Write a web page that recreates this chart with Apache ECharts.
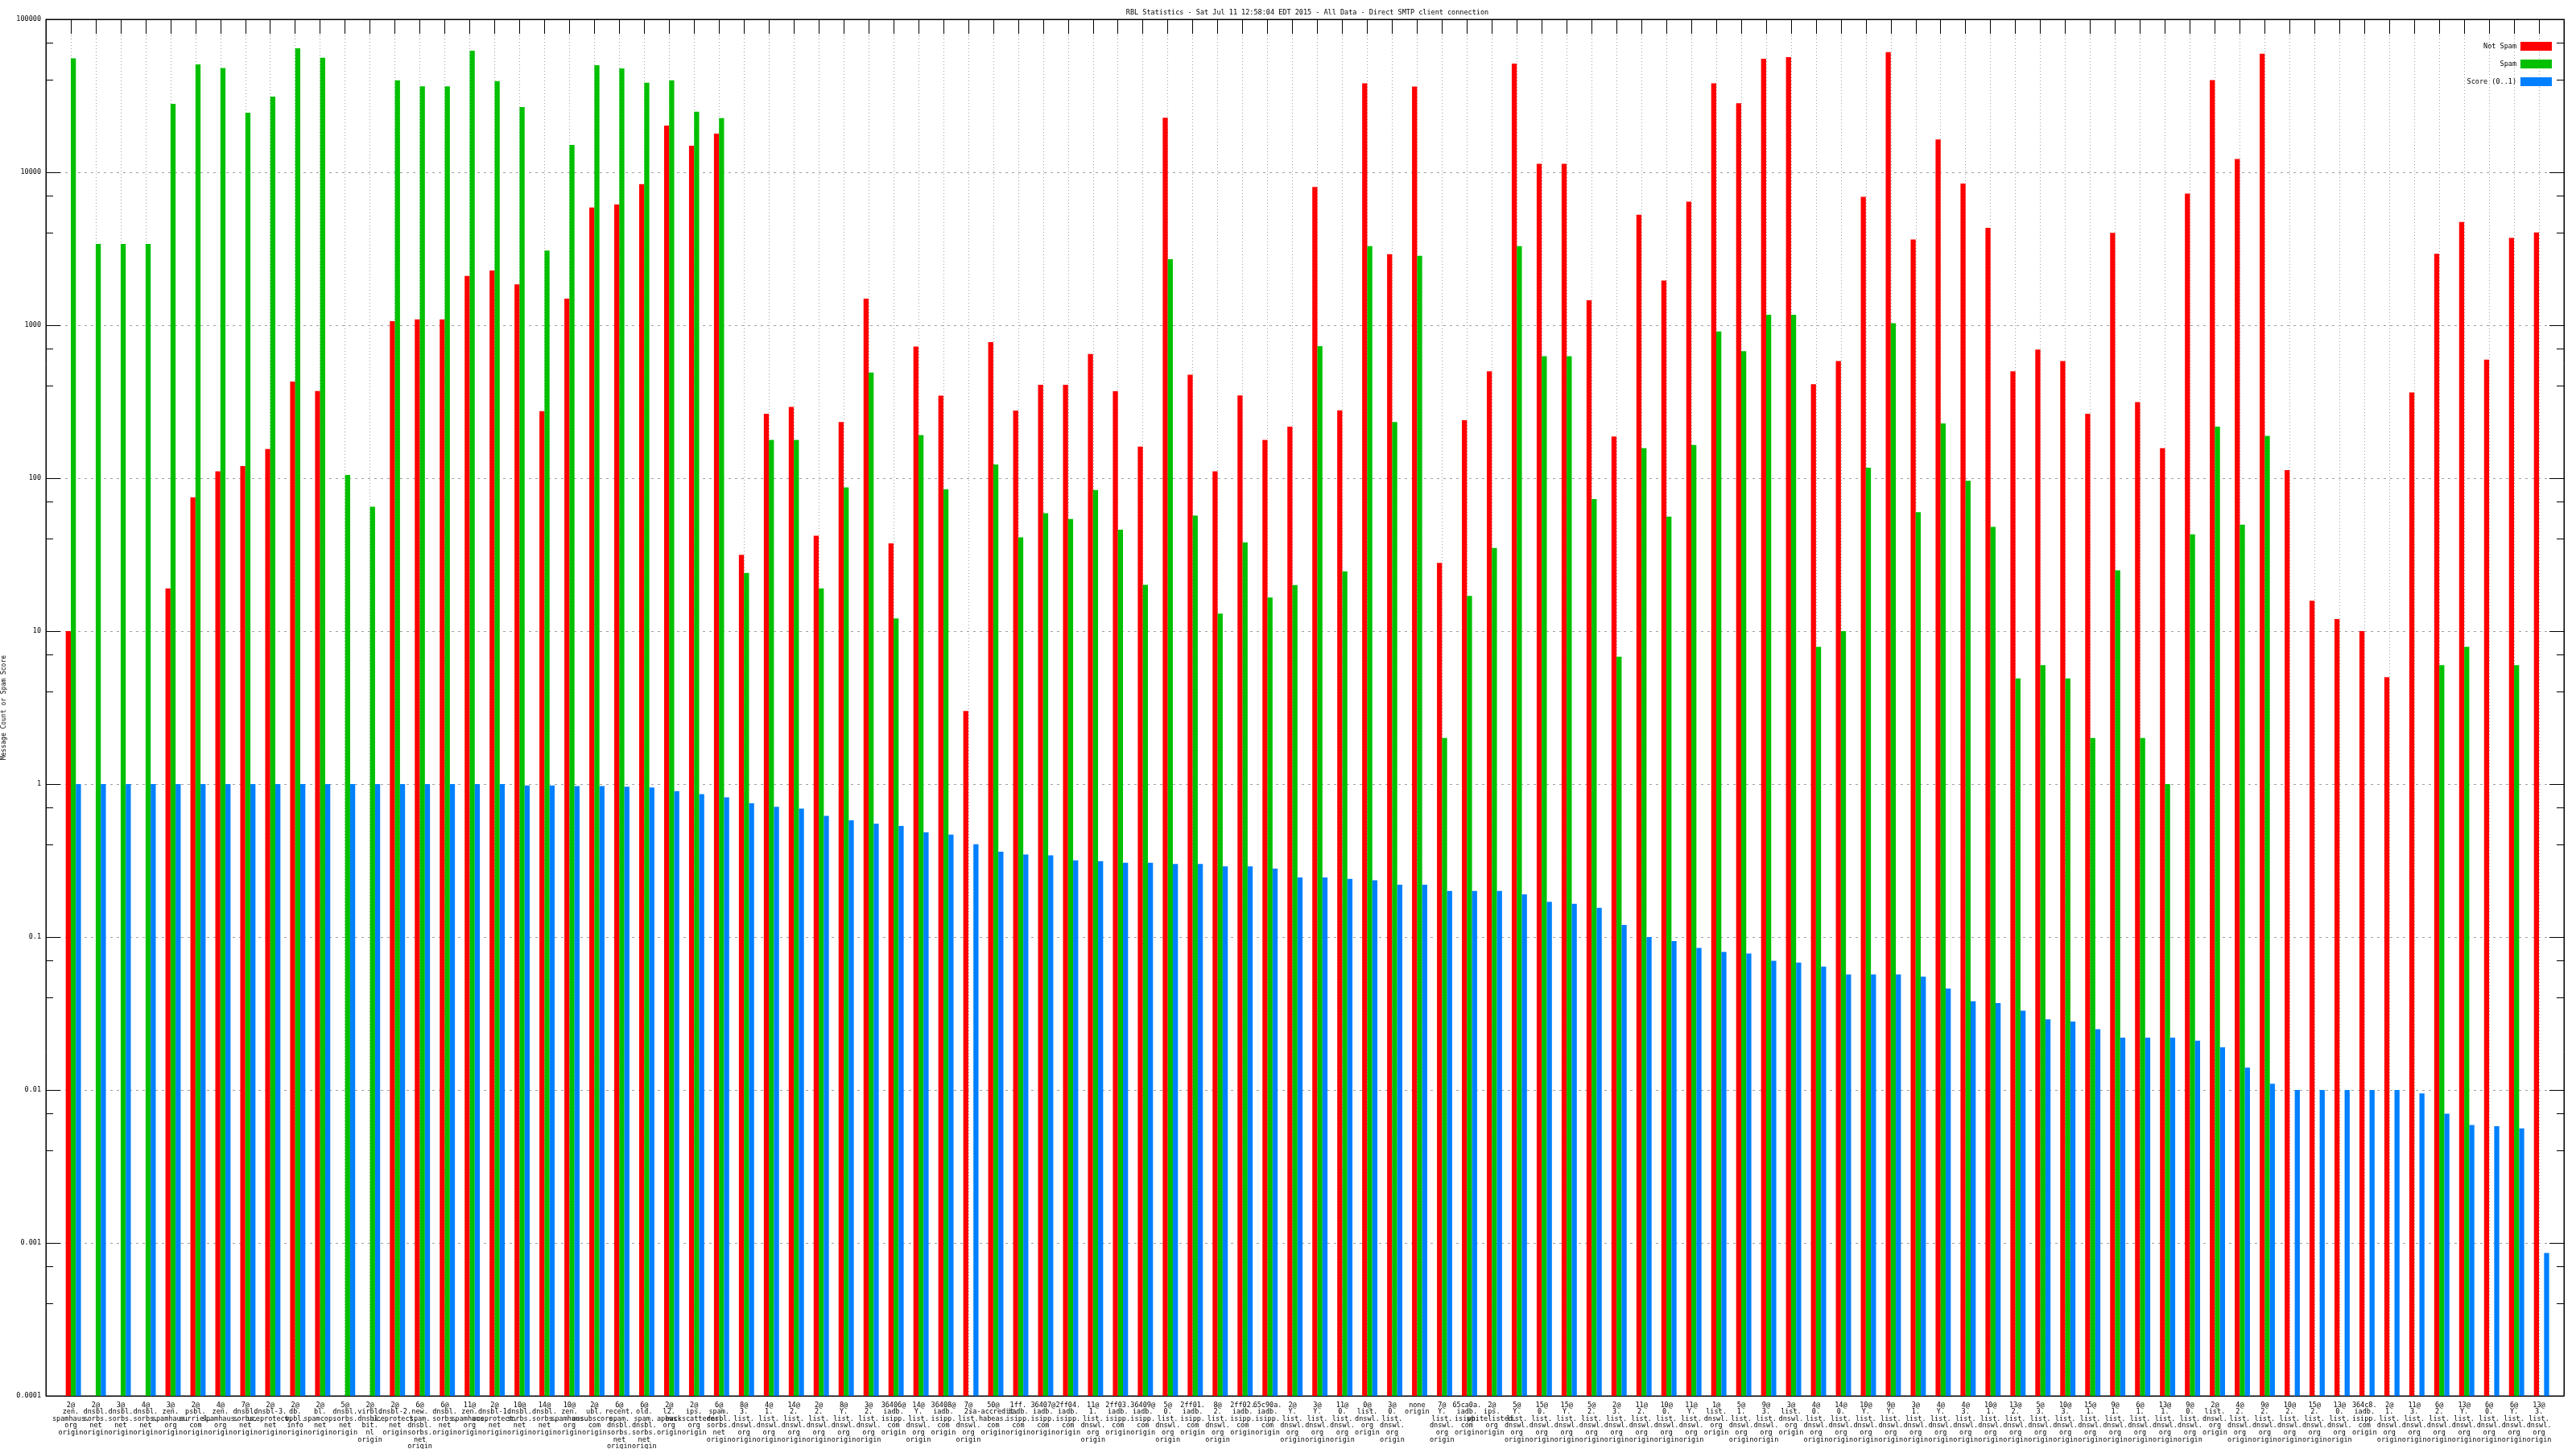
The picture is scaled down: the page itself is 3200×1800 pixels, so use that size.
<!DOCTYPE html>
<html>
<head>
<meta charset="utf-8">
<script src="https://cdn.jsdelivr.net/npm/echarts@6/dist/echarts.min.js"></script>
<style>
html,body{margin:0;padding:0;background:#fff;}
#chart{width:3200px;height:1800px;}
</style>
</head>
<body>
<div id="chart"></div>
<script>
const titleText = 'RBL Statistics - Sat Jul 11 12:58:04 EDT 2015 - All Data - Direct SMTP client connection';
const yAxisName = 'Message Count or Spam Score';
const seriesNames = ['Not Spam', 'Spam', 'Score (0..1)'];
const yTickLabels = ['0.0001','0.001','0.01','0.1','1','10','100','1000','10000','100000'];

const categories = [
'2@ zen. spamhaus. org origin','2@ dnsbl. sorbs. net origin','3@ dnsbl. sorbs. net origin','4@ dnsbl. sorbs. net origin',
'3@ zen. spamhaus. org origin','2@ psbl. surriel. com origin','4@ zen. spamhaus. org origin','7@ dnsbl. sorbs. net origin',
'2@ dnsbl-3. uceprotect. net origin','2@ db. wpbl. info origin','2@ bl. spamcop. net origin','5@ dnsbl. sorbs. net origin',
'2@ virbl. dnsbl. bit. nl origin','2@ dnsbl-2. uceprotect. net origin','6@ new. spam. dnsbl. sorbs. net origin','6@ dnsbl. sorbs. net origin',
'11@ zen. spamhaus. org origin','2@ dnsbl-1. uceprotect. net origin','10@ dnsbl. sorbs. net origin','14@ dnsbl. sorbs. net origin',
'10@ zen. spamhaus. org origin','2@ ubl. unsubscore. com origin','6@ recent. spam. dnsbl. sorbs. net origin','6@ old. spam. dnsbl. sorbs. net origin',
'2@ l2. apews. org origin','2@ ips. backscatterer. org origin','6@ spam. dnsbl. sorbs. net origin','8@ 3. list. dnswl. org origin',
'4@ 1. list. dnswl. org origin','14@ 2. list. dnswl. org origin','2@ 2. list. dnswl. org origin','8@ Y. list. dnswl. org origin',
'3@ 2. list. dnswl. org origin','36406@ iadb. isipp. com origin','14@ Y. list. dnswl. org origin','36408@ iadb. isipp. com origin',
'7@ 2. list. dnswl. org origin','50@ sa-accredit. habeas. com origin','1ff. iadb. isipp. com origin','36407@ iadb. isipp. com origin',
'2ff04. iadb. isipp. com origin','11@ 1. list. dnswl. org origin','2ff03. iadb. isipp. com origin','36409@ iadb. isipp. com origin',
'5@ 0. list. dnswl. org origin','2ff01. iadb. isipp. com origin','8@ 2. list. dnswl. org origin','2ff02. iadb. isipp. com origin',
'65c90a. iadb. isipp. com origin','2@ Y. list. dnswl. org origin','3@ Y. list. dnswl. org origin','11@ 0. list. dnswl. org origin',
'0@ list. dnswl. org origin','3@ 0. list. dnswl. org origin','none origin','7@ Y. list. dnswl. org origin',
'65ca0a. iadb. isipp. com origin','2@ ips. whitelisted. org origin','5@ Y. list. dnswl. org origin','15@ 0. list. dnswl. org origin',
'15@ Y. list. dnswl. org origin','5@ 2. list. dnswl. org origin','2@ 3. list. dnswl. org origin','11@ 2. list. dnswl. org origin',
'10@ 0. list. dnswl. org origin','11@ Y. list. dnswl. org origin','1@ list. dnswl. org origin','5@ 1. list. dnswl. org origin',
'9@ 3. list. dnswl. org origin','3@ list. dnswl. org origin','4@ 0. list. dnswl. org origin','14@ 0. list. dnswl. org origin',
'10@ Y. list. dnswl. org origin','9@ Y. list. dnswl. org origin','3@ 1. list. dnswl. org origin','4@ Y. list. dnswl. org origin',
'4@ 3. list. dnswl. org origin','10@ 1. list. dnswl. org origin','13@ 2. list. dnswl. org origin','5@ 3. list. dnswl. org origin',
'10@ 3. list. dnswl. org origin','15@ 1. list. dnswl. org origin','9@ 1. list. dnswl. org origin','6@ 1. list. dnswl. org origin',
'13@ 1. list. dnswl. org origin','9@ 0. list. dnswl. org origin','2@ list. dnswl. org origin','4@ 2. list. dnswl. org origin',
'9@ 2. list. dnswl. org origin','10@ 2. list. dnswl. org origin','15@ 2. list. dnswl. org origin','13@ 0. list. dnswl. org origin',
'364c8. iadb. isipp. com origin','2@ 1. list. dnswl. org origin','11@ 3. list. dnswl. org origin','6@ 2. list. dnswl. org origin',
'13@ Y. list. dnswl. org origin','6@ 0. list. dnswl. org origin','6@ Y. list. dnswl. org origin','13@ 3. list. dnswl. org origin'
];

const notSpam = [
10,null,null,null,19,75,111,120,155,428,
371,null,null,1062,1091,1091,2100,2280,1850,274,
1490,5880,6160,8360,20200,14900,17900,31.5,264,292,
42,233,1490,37.5,726,346,3.0,776,277,408,
408,649,370,161,22700,474,111,347,178,217,
8020,278,38100,2910,36300,27.9,239,500,51300,11350,
11350,1455,187,5270,1960,6420,38100,28300,55200,56600,
412,583,6920,61000,3640,16400,8430,4330,500,693,
583,264,4020,314,157,7260,40000,12200,59500,113,
15.8,12,10,5,363,2930,4730,596,3720,4040
];

const spam = [
55600,3400,3400,3400,28000,50800,48000,24500,31200,64700,
56000,105,65,39900,36500,36500,62400,39400,26700,3080,
15100,50100,47800,38500,39900,24900,22600,24,178,178,
19,87,491,12.1,191,84.7,null,123,41,59,
54,83.6,46,20.1,2700,57,13,38,16.6,20,
730,24.6,3290,233,2840,2,17,35,3290,628,
628,73,6.8,157,56,165,910,676,1170,1170,
7.9,10,117,1030,60,228,96,48,4.9,6,
4.9,2,25,2,1,43,217,49.7,189,null,
null,null,null,null,null,6,7.9,null,6,null
];

const score = [
1,1,1,1,1,1,1,1,1,1,
1,1,1,1,1,1,1,1,0.98,0.98,
0.97,0.97,0.96,0.95,0.9,0.86,0.82,0.75,0.71,0.69,
0.62,0.58,0.55,0.533,0.483,0.468,0.404,0.361,0.346,0.342,
0.317,0.313,0.306,0.306,0.3,0.3,0.29,0.29,0.28,0.245,
0.245,0.24,0.235,0.22,0.22,0.2,0.2,0.2,0.19,0.17,
0.165,0.155,0.12,0.1,0.094,0.085,0.08,0.078,0.07,0.068,
0.064,0.057,0.057,0.057,0.055,0.046,0.038,0.037,0.033,0.029,
0.028,0.025,0.022,0.022,0.022,0.021,0.019,0.014,0.011,0.01,
0.01,0.01,0.01,0.01,0.0095,0.007,0.0059,0.0058,0.0056,0.00086
];

const FONT = '"DejaVu Sans Mono", "Liberation Mono", monospace';
const pad = arr => [null].concat(arr, [null]);
const cats = [''].concat(categories.map(s => s.split(' ').join('\n')), ['']);
const BW = 6.3;

const chart = echarts.init(document.getElementById('chart'), null, {renderer: 'canvas'});

const logAxisBase = {
  type: 'log', logBase: 10, min: 0.0001, max: 100000, startValue: 0.0001,
  axisLine: {show: true, lineStyle: {color: '#000', width: 1}},
  axisTick: {show: true, inside: true, length: 18, lineStyle: {color: '#000'}},
  minorTick: {show: true, splitNumber: 3, length: 9, lineStyle: {color: '#000'}},
};

chart.setOption({
  animation: false,
  backgroundColor: '#fff',
  title: {
    text: titleText, left: 1619, top: 6, textAlign: 'center',
    textStyle: {fontFamily: FONT, fontSize: 8.5, fontWeight: 'normal', color: '#000'}
  },
  legend: {
    data: seriesNames, orient: 'vertical', right: 25, top: 47, align: 'right',
    itemWidth: 39, itemHeight: 11, itemGap: 11, icon: 'rect',
    textStyle: {fontFamily: FONT, fontSize: 8.5, color: '#000'}
  },
  grid: {left: 57, right: 15, top: 24, bottom: 66, show: true, borderColor: '#000', borderWidth: 1,
         containLabel: false, outerBoundsMode: 'none'},
  xAxis: [{
    type: 'category', data: cats, boundaryGap: false,
    axisLine: {show: true, lineStyle: {color: '#000'}},
    axisTick: {show: false},
    axisLabel: {interval: 0, fontFamily: FONT, fontSize: 8.5, lineHeight: 8.6, color: '#000', margin: 7, verticalAlign: 'top'},
    splitLine: {show: true, interval: 0, lineStyle: {color: '#a0a0a0', type: [1, 3], width: 1}}
  }, {
    type: 'category', data: cats, boundaryGap: false, position: 'top',
    axisLine: {show: true, lineStyle: {color: '#000'}},
    axisTick: {show: true, inside: true, length: 18, interval: 0, lineStyle: {color: '#000'}},
    axisLabel: {show: false}, splitLine: {show: false}
  }],
  yAxis: [Object.assign({}, logAxisBase, {
    position: 'left',
    name: yAxisName, nameLocation: 'middle', nameGap: 46, nameRotate: 90,
    nameTextStyle: {fontFamily: FONT, fontSize: 8, color: '#000'},
    axisLabel: {
      fontFamily: FONT, fontSize: 8.5, color: '#000', margin: 6,
      formatter: v => yTickLabels[Math.round(Math.log10(v)) + 4]
    },
    splitLine: {show: true, lineStyle: {color: '#a0a0a0', type: [3, 5], width: 1}}
  }), Object.assign({}, logAxisBase, {
    position: 'right', axisLabel: {show: false}, splitLine: {show: false}
  })],
  series: [
    {name: '_pad', type: 'bar', data: pad(categories.map(() => null)), barWidth: BW, barGap: '0%', silent: true},
    {name: seriesNames[0], type: 'bar', data: pad(notSpam), barWidth: BW, barGap: '0%', itemStyle: {color: '#ff0000'}},
    {name: seriesNames[1], type: 'bar', data: pad(spam), barWidth: BW, barGap: '0%', itemStyle: {color: '#00c000'}},
    {name: seriesNames[2], type: 'bar', data: pad(score), barWidth: BW, barGap: '0%', itemStyle: {color: '#0080ff'}}
  ]
});
</script>
</body>
</html>
